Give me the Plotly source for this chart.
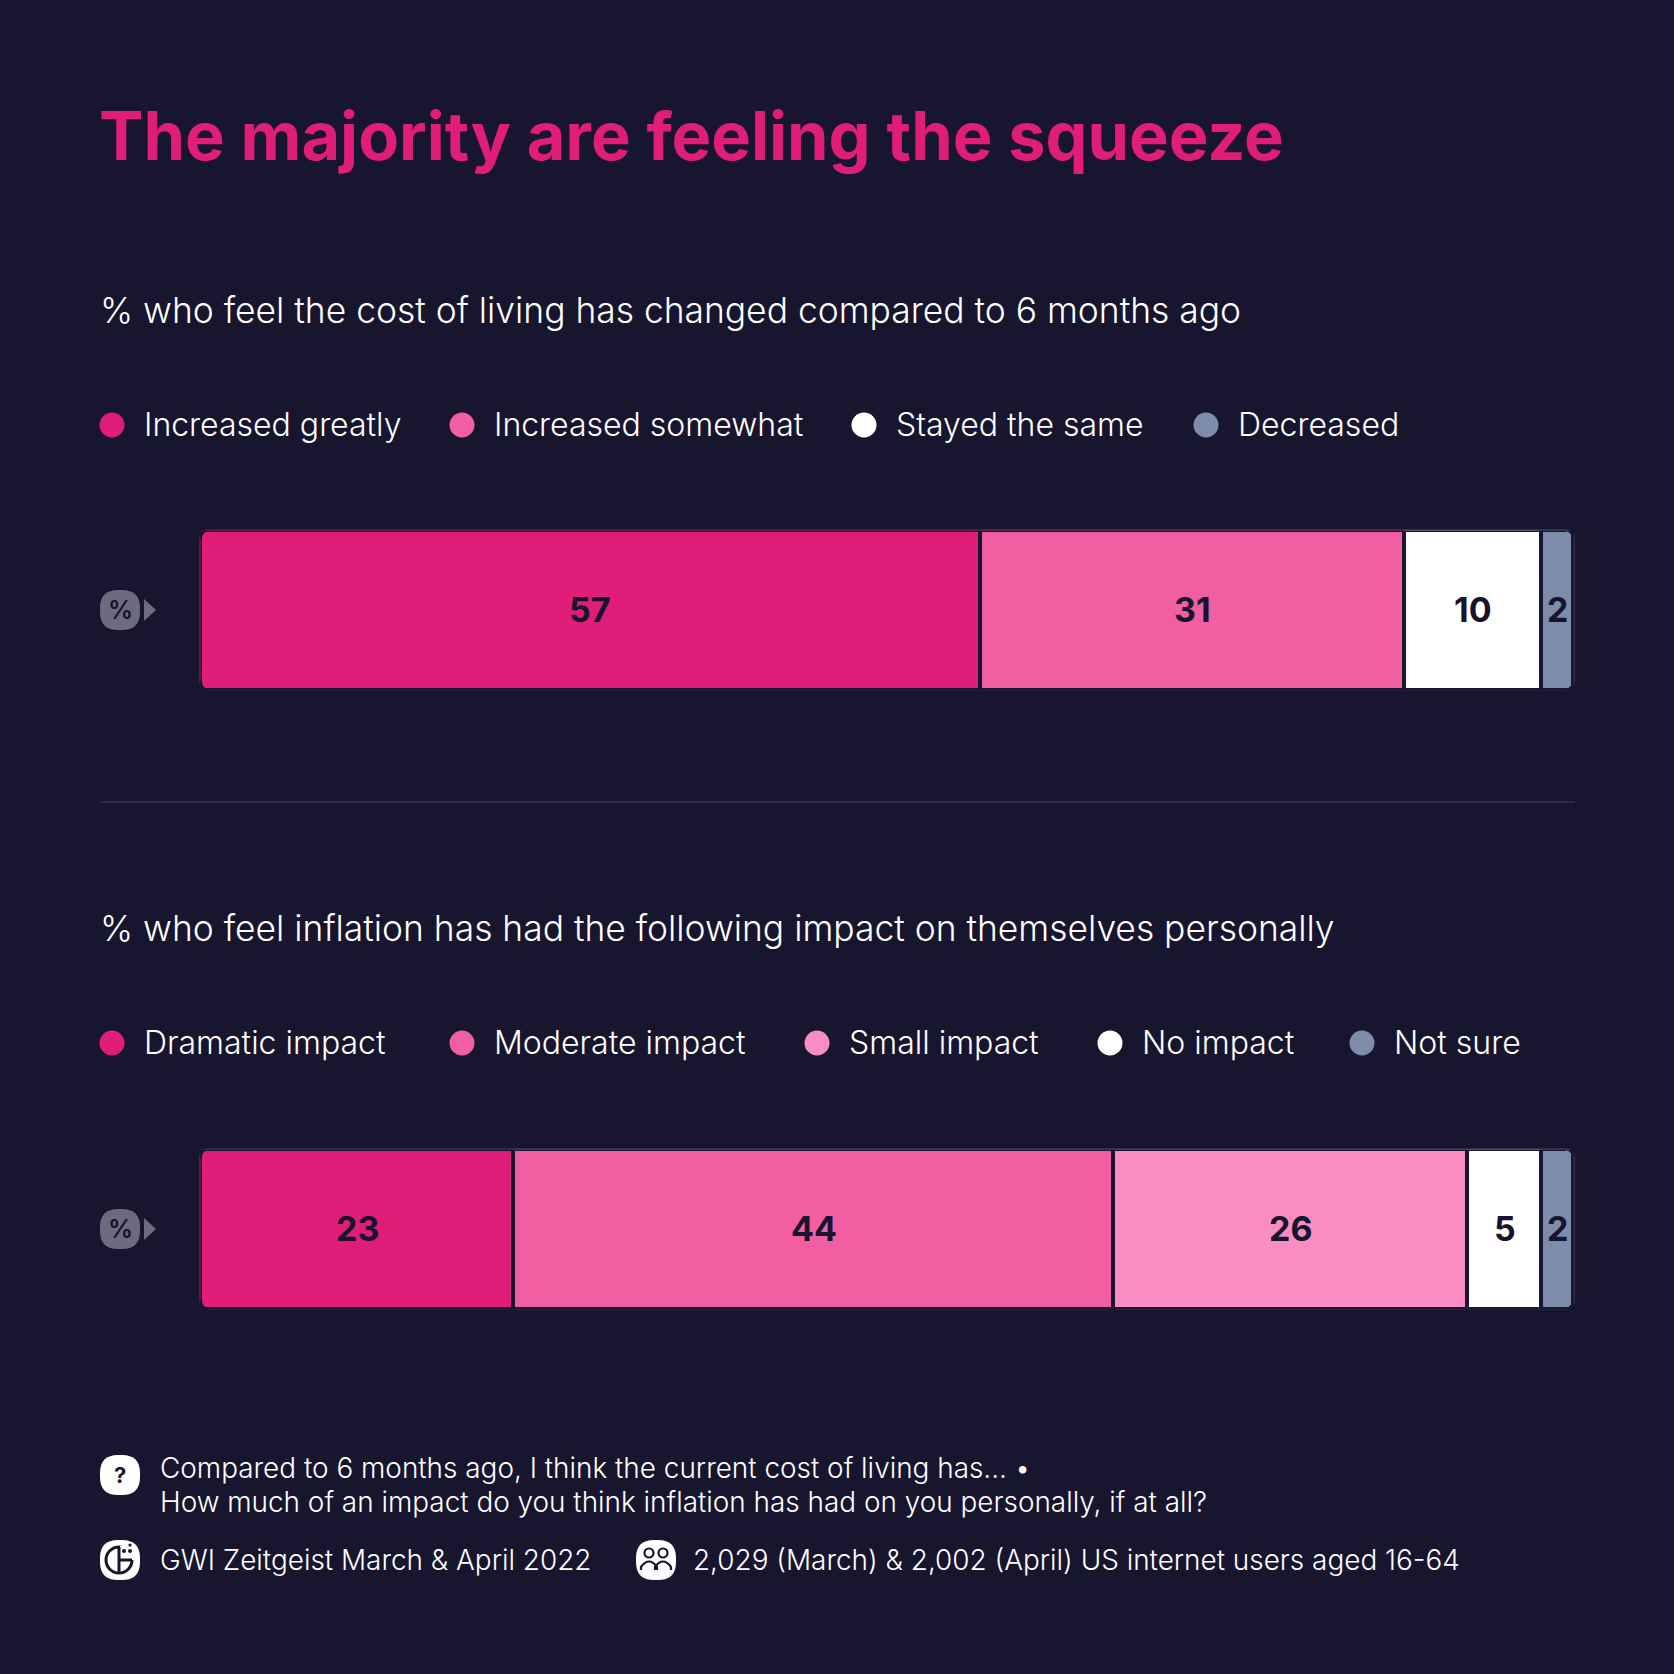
import plotly.graph_objects as go

SIZE = 1674
BG = "#18152f"
INK = "#18142f"

title = "The majority are feeling the squeeze"

question_a = "% who feel the cost of living has changed compared to 6 months ago"
labels_a = ["Increased greatly", "Increased somewhat", "Stayed the same", "Decreased"]
values_a = [56.8, 30.9, 10.0, 2.3]
colors_a = ["#e01d78", "#f15fa2", "#ffffff", "#7d8caa"]
legend_x_a = [112, 462, 864, 1206]

question_b = "% who feel inflation has had the following impact on themselves personally"
labels_b = ["Dramatic impact", "Moderate impact", "Small impact", "No impact", "Not sure"]
values_b = [22.8, 43.7, 25.8, 5.4, 2.3]
colors_b = ["#e01d78", "#f15fa2", "#f78dc2", "#ffffff", "#7d8caa"]
legend_x_b = [112, 462, 817, 1110, 1362]

note_lines = [
    "Compared to 6 months ago, I think the current cost of living has... •",
    "How much of an impact do you think inflation has had on you personally, if at all?",
]
source = "GWI Zeitgeist March & April 2022"
sample = "2,029 (March) & 2,002 (April) US internet users aged 16-64"

BODY = "Inter"


def px(x):
    return x / SIZE


def py(y):
    return 1 - y / SIZE


def label(text, x, y, size, color="#ffffff", weight=300, anchor="left", family=BODY):
    return dict(
        text=text, x=px(x), y=py(y), xref="paper", yref="paper",
        xanchor=anchor, yanchor="middle", showarrow=False,
        font=dict(family=family, size=size, color=color, weight=weight),
    )


def squircle(x0, y0, x1, y1, r, **kw):
    # rounded box in pixel coordinates
    p = (
        f"M {px(x0 + r)} {py(y0)} L {px(x1 - r)} {py(y0)} "
        f"Q {px(x1)} {py(y0)} {px(x1)} {py(y0 + r)} L {px(x1)} {py(y1 - r)} "
        f"Q {px(x1)} {py(y1)} {px(x1 - r)} {py(y1)} L {px(x0 + r)} {py(y1)} "
        f"Q {px(x0)} {py(y1)} {px(x0)} {py(y1 - r)} L {px(x0)} {py(y0 + r)} "
        f"Q {px(x0)} {py(y0)} {px(x0 + r)} {py(y0)} Z"
    )
    return dict(type="path", path=p, xref="paper", yref="paper", **kw)


def dot(cx, cy, r, color, **kw):
    return dict(
        type="circle", xref="paper", yref="paper",
        x0=px(cx - r), x1=px(cx + r), y0=py(cy + r), y1=py(cy - r),
        fillcolor=color, line=dict(width=0), **kw,
    )


def add_stack(names, values, colors, xaxis, yaxis):
    for name, value, color in zip(names, values, colors):
        fig.add_trace(go.Bar(
            name=name, x=[value], y=["%"], orientation="h", xaxis=xaxis, yaxis=yaxis,
            marker=dict(color=color, line=dict(color=BG, width=3.5)),
        ))
    # value labels sit at the middle of each segment
    out = []
    for i, v in enumerate(values):
        out.append(dict(
            text=str(round(v)), x=sum(values[:i]) + v / 2, y="%",
            xref=xaxis, yref=yaxis, showarrow=False, yshift=1,
            font=dict(family="Inter", size=34, color=INK, weight=700),
        ))
    return out


fig = go.Figure()

shapes = []
notes = [
    label(title, 97, 135, 66.7, color="#e01d78", weight=700),
    label(question_a, 98, 310.5, 35.4),
    label(question_b, 98, 928, 35.4),
]
notes += add_stack(labels_a, values_a, colors_a, "x", "y")
notes += add_stack(labels_b, values_b, colors_b, "x2", "y2")

for y, names, xs, colors in [
    (425, labels_a, legend_x_a, colors_a),
    (1043, labels_b, legend_x_b, colors_b),
]:
    for name, x, color in zip(names, xs, colors):
        shapes.append(dot(x, y, 12.5, color))
        notes.append(label(name, x + 30, y - 1, 32))

# bar outlines, rounded left corners and the % chips
for top, bottom in [(530, 690), (1149, 1309)]:
    shapes.append(squircle(200, top, 1574, bottom, 9, layer="below",
                           fillcolor=BG, line=dict(color="#3a3750", width=1.5)))
    for cy, step in [(top + 1, 8), (bottom - 1, -8)]:
        shapes.append(dict(
            type="path", xref="paper", yref="paper",
            path=(f"M {px(200)} {py(cy)} L {px(210)} {py(cy)} "
                  f"Q {px(202)} {py(cy)} {px(202)} {py(cy + step)} L {px(200)} {py(cy + step)} Z"),
            fillcolor=BG, line=dict(width=0),
        ))
    mid = (top + bottom) / 2
    shapes.append(squircle(100, mid - 20, 140, mid + 20, 18,
                           fillcolor="#6c6b80", line=dict(width=0)))
    shapes.append(dict(
        type="path", xref="paper", yref="paper",
        path=f"M {px(144)} {py(mid - 11)} L {px(156)} {py(mid)} L {px(144)} {py(mid + 11)} Z",
        fillcolor="#6c6b80", line=dict(width=0),
    ))
    notes.append(label("%", 120, mid, 25, color=INK, weight=600, anchor="center"))

shapes.append(dict(
    type="line", xref="paper", yref="paper",
    x0=px(100), x1=px(1575), y0=py(802), y1=py(802),
    line=dict(color="#34324a", width=1.5),
))

# footer
for i, line in enumerate(note_lines):
    notes.append(label(line, 158, 1468 + i * 34, 27.9))
notes.append(label(source, 158, 1560, 27.9))
notes.append(label(sample, 691, 1560, 27.9))

shapes.append(squircle(100, 1455, 140, 1495, 18, fillcolor="#ffffff", line=dict(width=0)))
notes.append(label("?", 120, 1475, 22, color=INK, weight=700, anchor="center"))

shapes.append(squircle(100, 1540, 140, 1580, 18, fillcolor="#ffffff", line=dict(width=0)))
shapes.append(dot(119, 1560, 13, "rgba(0,0,0,0)"))
shapes[-1]["line"] = dict(color=INK, width=3)
shapes.append(dict(
    type="rect", xref="paper", yref="paper",
    x0=px(120), x1=px(134), y0=py(1560), y1=py(1546),
    fillcolor="#ffffff", line=dict(width=0),
))
shapes.append(dict(
    type="line", xref="paper", yref="paper",
    x0=px(119), x1=px(119), y0=py(1547), y1=py(1573),
    line=dict(color=INK, width=3),
))
shapes.append(dict(
    type="line", xref="paper", yref="paper",
    x0=px(119), x1=px(132), y0=py(1560), y1=py(1560),
    line=dict(color=INK, width=3),
))
shapes.append(dot(124, 1551, 2, INK))
shapes.append(dot(130, 1551, 2, INK))
shapes.append(dot(130, 1545, 1.6, INK))

shapes.append(squircle(636, 1540, 676, 1580, 18, fillcolor="#ffffff", line=dict(width=0)))
for cx in (649, 663):
    shapes.append(dot(cx, 1553, 4.5, "rgba(0,0,0,0)"))
    shapes[-1]["line"] = dict(color=INK, width=2.2)
    shapes.append(dict(
        type="path", xref="paper", yref="paper",
        path=(f"M {px(cx - 8)} {py(1570)} L {px(cx - 8)} {py(1567)} "
              f"Q {px(cx)} {py(1556)} {px(cx + 8)} {py(1567)} L {px(cx + 8)} {py(1570)}"),
        line=dict(color=INK, width=2.2),
    ))

axis_off = dict(visible=False, fixedrange=True)
fig.update_layout(
    width=SIZE, height=SIZE,
    margin=dict(l=0, r=0, t=0, b=0),
    paper_bgcolor=BG, plot_bgcolor=BG,
    showlegend=False,
    barmode="stack", bargap=0, barcornerradius=7,
    xaxis=dict(domain=[px(200.5), px(1573.5)], range=[0, 100], anchor="y", **axis_off),
    yaxis=dict(domain=[py(690.5), py(530.5)], range=[-0.5, 0.5], anchor="x", **axis_off),
    xaxis2=dict(domain=[px(200.5), px(1573.5)], range=[0, 100], anchor="y2", **axis_off),
    yaxis2=dict(domain=[py(1309.5), py(1149.5)], range=[-0.5, 0.5], anchor="x2", **axis_off),
    shapes=shapes,
    annotations=notes,
)

fig.write_html("out.html", config=dict(displayModeBar=False),
               post_script="document.body.style.margin='0';")
